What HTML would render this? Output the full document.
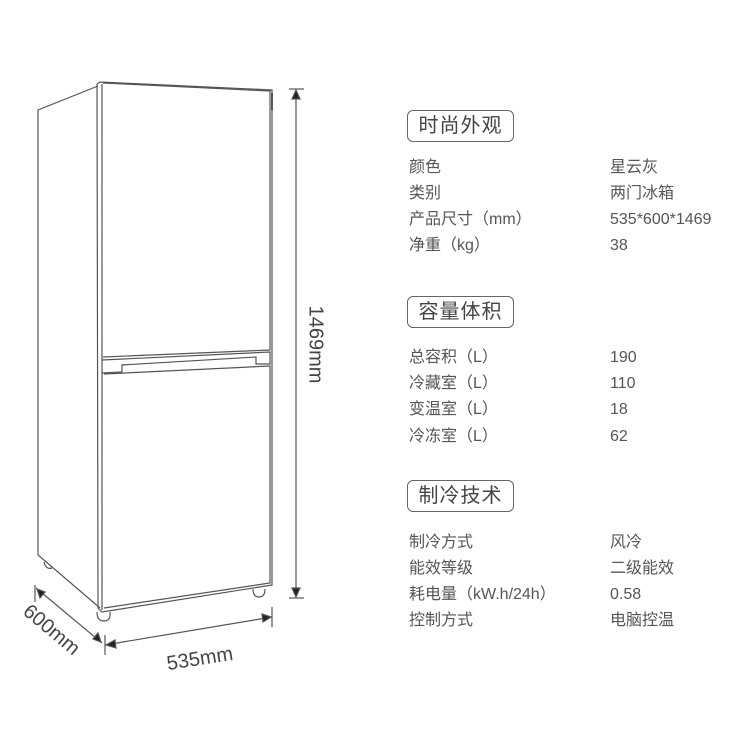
<!DOCTYPE html>
<html><head><meta charset="utf-8"><style>
body{margin:0;width:750px;height:750px;background:#fff;position:relative;overflow:hidden;font-family:"Liberation Sans","Noto Sans CJK SC",sans-serif;color:#444}
.h{position:absolute;left:407px;width:105px;height:30px;border:1.5px solid #666;border-radius:6px;font-size:20px;line-height:30px;text-align:center;color:#444;letter-spacing:1px}
.r{position:absolute;font-size:16px;line-height:20px;color:#555;white-space:nowrap}
</style></head><body>
<svg width="750" height="750" style="position:absolute;left:0;top:0" fill="none" stroke="#555" stroke-width="1.2">
<polyline points="98,86 38,110 38,555 100,608"/>
<polyline points="97,84 100,82 272,90 272,585 102,612 98,608 97,84"/>
<line x1="102" y1="84" x2="102" y2="610"/>
<polyline points="103,83 270,91 270,350 103,357"/>
<polyline points="102,360 270,352 270,364 256,364 256,357 122,365 122,372 102,373"/>
<polyline points="104,374 270,366 270,583 104,608"/>
<line x1="272" y1="93" x2="272" y2="110" stroke-width="2"/>
<path d="M44,562 q2,8 8,6"/>
<path d="M97,612 q0,9 7,9 q7,0 6,-9"/>
<path d="M253,589 q0,8 6,8 q6,0 6,-8"/>
<line x1="296" y1="90" x2="296" y2="597"/>
<line x1="289" y1="89" x2="304" y2="89"/>
<line x1="289" y1="598" x2="304" y2="598"/>
<polygon points="296,90 292,99 300,99" fill="#222"/>
<polygon points="296,597 292,588 300,588" fill="#222"/>
<line x1="105" y1="645" x2="272" y2="617"/>
<line x1="105" y1="635" x2="105" y2="655"/>
<line x1="272" y1="607" x2="272" y2="627"/>
<polygon points="106,645 115,640 116,648" fill="#222"/>
<polygon points="271,617 262,614 263,622" fill="#222"/>
<line x1="36" y1="588" x2="102" y2="643"/>
<line x1="35" y1="585" x2="35" y2="602"/>
<polygon points="37,589 40,598 45,592" fill="#222"/>
<polygon points="101,642 98,633 93,639" fill="#222"/>
</svg>
<div style="position:absolute;left:270px;top:333px;width:90px;text-align:center;font-size:20px;transform:rotate(90deg);color:#444">1469mm</div>
<div style="position:absolute;left:155px;top:648px;width:90px;text-align:center;font-size:20px;transform:rotate(-9deg);color:#444">535mm</div>
<div style="position:absolute;left:6px;top:619px;width:90px;text-align:center;font-size:20px;transform:rotate(40deg);color:#444">600mm</div>

<div class="h" style="top:110px">时尚外观</div>
<div class="r" style="left:409px;top:158px">颜色</div><div class="r" style="left:610px;top:158px">星云灰</div>
<div class="r" style="left:409px;top:184px">类别</div><div class="r" style="left:610px;top:184px">两门冰箱</div>
<div class="r" style="left:409px;top:210px">产品尺寸（mm）</div><div class="r" style="left:610px;top:210px">535*600*1469</div>
<div class="r" style="left:409px;top:236px">净重（kg）</div><div class="r" style="left:610px;top:236px">38</div>

<div class="h" style="top:296px">容量体积</div>
<div class="r" style="left:409px;top:348px">总容积（L）</div><div class="r" style="left:610px;top:348px">190</div>
<div class="r" style="left:409px;top:374px">冷藏室（L）</div><div class="r" style="left:610px;top:374px">110</div>
<div class="r" style="left:409px;top:400px">变温室（L）</div><div class="r" style="left:610px;top:400px">18</div>
<div class="r" style="left:409px;top:427px">冷冻室（L）</div><div class="r" style="left:610px;top:427px">62</div>

<div class="h" style="top:480px">制冷技术</div>
<div class="r" style="left:409px;top:533px">制冷方式</div><div class="r" style="left:610px;top:533px">风冷</div>
<div class="r" style="left:409px;top:559px">能效等级</div><div class="r" style="left:610px;top:559px">二级能效</div>
<div class="r" style="left:409px;top:585px">耗电量（kW.h/24h）</div><div class="r" style="left:610px;top:585px">0.58</div>
<div class="r" style="left:409px;top:611px">控制方式</div><div class="r" style="left:610px;top:611px">电脑控温</div>
</body></html>
